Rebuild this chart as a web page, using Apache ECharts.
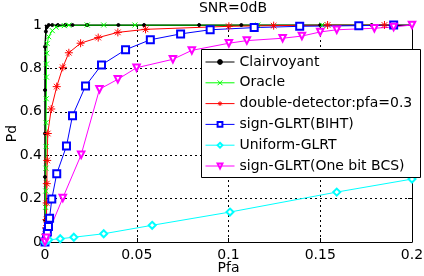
<!DOCTYPE html>
<html><head><meta charset="utf-8">
<script src="https://cdn.jsdelivr.net/npm/echarts@6/dist/echarts.min.js"></script>
<style>html,body{margin:0;padding:0;background:#fff}#c{width:424px;height:276px}</style>
</head><body><div id="c"></div>
<script>
var seriesNames = ['Clairvoyant','Oracle','double-detector:pfa=0.3','sign-GLRT(BIHT)','Uniform-GLRT','sign-GLRT(One bit BCS)'];
var xTicks = [0, 0.05, 0.1, 0.15, 0.2];
var yTicks = [0, 0.2, 0.4, 0.6, 0.8, 1];
var clairvoyant = [[0,0],[0,0.1],[0,0.3],[0,0.5],[0,0.7],[0,0.9],[0.0005,0.97],[0.001,0.99],[0.002,1],[0.004,1],[0.007,1],[0.011,1],[0.015,1],[0.023,1],[0.04,1],[0.054,1],[0.084,1],[0.107,1],[0.15,1],[0.178,1],[0.2,1]];
var oracle = [[0,0],[0.0002,0.05],[0.0003,0.16],[0.0004,0.235],[0.0005,0.34],[0.0006,0.44],[0.0006,0.55],[0.0007,0.66],[0.0008,0.76],[0.0008,0.82],[0.001,0.87],[0.0012,0.915],[0.002,0.946],[0.004,0.974],[0.006,0.99],[0.0105,0.997],[0.013,0.999],[0.023,1],[0.032,1],[0.049,1],[0.116,1],[0.151,1],[0.19,1]];
var doubleDetector = [[0,0],[0.0003,0.035],[0.0006,0.065],[0.0008,0.103],[0.0009,0.18],[0.001,0.269],[0.0012,0.376],[0.0015,0.5],[0.0034,0.613],[0.0064,0.716],[0.0097,0.805],[0.013,0.872],[0.0194,0.916],[0.029,0.942],[0.0397,0.966],[0.0548,0.98],[0.1002,0.994],[0.1246,0.997],[0.154,1],[0.185,1]];
var signBIHT = [[0,0],[0.0008,0.02],[0.0013,0.046],[0.0019,0.072],[0.0025,0.11],[0.0037,0.198],[0.0064,0.315],[0.0117,0.442],[0.015,0.582],[0.0221,0.719],[0.0308,0.816],[0.0439,0.886],[0.0574,0.932],[0.0739,0.959],[0.09,0.978],[0.114,0.988],[0.1388,0.994],[0.171,0.997],[0.19,1]];
var uniformGLRT = [[0,0],[0.0005,0.003],[0.002,0.01],[0.0083,0.015],[0.0157,0.022],[0.032,0.038],[0.0584,0.077],[0.1008,0.138],[0.159,0.23],[0.2,0.29]];
var signBCS = [[0,0],[0.0007,0.02],[0.0097,0.203],[0.0197,0.402],[0.0297,0.704],[0.0397,0.75],[0.0499,0.803],[0.0697,0.842],[0.08,0.883],[0.1002,0.916],[0.11,0.928],[0.1295,0.939],[0.14,0.949],[0.15,0.968],[0.159,0.978],[0.1795,0.985],[0.19,0.991],[0.2,1.0]];

var FONT = 'DejaVu Sans';
var xMark = 'path://M0,0L10,10M10,0L0,10';
var star = 'path://M5,0L5,10M0,5L10,5M1.5,1.5L8.5,8.5M8.5,1.5L1.5,8.5';

function mk(name, data, color, symbol, size, extra) {
  var s = {
    name: name, type: 'line', data: data, xAxisIndex: 0, yAxisIndex: 0,
    symbol: symbol, symbolSize: size, showSymbol: true,
    lineStyle: {color: color, width: 1},
    itemStyle: {color: color, borderColor: color, borderWidth: 1},
    emphasis: {disabled: true}, animation: false, clip: true, z: 3
  };
  if (extra) for (var k in extra) s[k] = extra[k];
  return s;
}

var chart = echarts.init(document.getElementById('c'), null, {renderer: 'canvas'});
var axisCommon = {
  type: 'value',
  axisLine: {show: true, onZero: false, lineStyle: {color: '#000', width: 1}},
  axisTick: {show: true, inside: true, length: 4, lineStyle: {color: '#000'}},
  axisLabel: {color: '#000', fontFamily: FONT, fontSize: 14},
  splitLine: {show: true, lineStyle: {color: '#000', width: 1, type: [2, 3]}}
};
chart.setOption({
  animation: false,
  backgroundColor: '#fff',
  title: {text: 'SNR=0dB', left: 228, top: 0, padding: [1, 5, 5, 5], textAlign: 'center',
    textStyle: {fontFamily: FONT, fontSize: 14, fontWeight: 'normal', color: '#000'}},
  grid: {left: 45, right: 12, top: 25, bottom: 34, containLabel: false, outerBoundsMode: 'none'},
  xAxis: [
    Object.assign({}, axisCommon, {min: xTicks[0], max: xTicks[xTicks.length-1], interval: 0.05, position: 'bottom',
      name: 'Pfa', nameLocation: 'middle', nameGap: 19, nameMoveOverlap: false,
      nameTextStyle: {fontFamily: FONT, fontSize: 14, color: '#000', verticalAlign: 'top'},
      axisLabel: {color: '#000', fontFamily: FONT, fontSize: 14, margin: 6}}),
    Object.assign({}, axisCommon, {min: xTicks[0], max: xTicks[xTicks.length-1], interval: 0.05, position: 'top',
      axisLabel: {show: false}, splitLine: {show: false}})
  ],
  yAxis: [
    Object.assign({}, axisCommon, {min: yTicks[0], max: yTicks[yTicks.length-1], interval: 0.2, position: 'left',
      name: 'Pd', nameLocation: 'middle', nameGap: 26, nameRotate: 90, nameMoveOverlap: false,
      nameTextStyle: {fontFamily: FONT, fontSize: 14, color: '#000'},
      axisLabel: {color: '#000', fontFamily: FONT, fontSize: 14, margin: 3}}),
    Object.assign({}, axisCommon, {min: yTicks[0], max: yTicks[yTicks.length-1], interval: 0.2, position: 'right',
      axisLabel: {show: false}, splitLine: {show: false}})
  ],
  graphic: [{type: 'rect', shape: {x: 201.5, y: 49.5, width: 219, height: 128}, z: 9,
    style: {fill: '#fff', stroke: '#000', lineWidth: 1}}],
  legend: {
    orient: 'vertical', left: 205, top: 55,
    data: seriesNames,
    padding: 0, itemGap: 6.8, itemWidth: 29, itemHeight: 6,
    itemStyle: {borderWidth: 1},
    lineStyle: {width: 1},
    textStyle: {fontFamily: FONT, fontSize: 14, lineHeight: 14, color: '#000'},
    selectedMode: false, z: 10
  },
  series: [
    mk(seriesNames[0], clairvoyant, '#000000', 'circle', 3, {lineStyle: {color: '#000', width: 1.5}}),
    mk(seriesNames[1], oracle, '#00ff00', xMark, 5),
    mk(seriesNames[2], doubleDetector, '#ff0000', star, 8),
    mk(seriesNames[3], signBIHT, '#0000ff', 'emptyRect', 7),
    mk(seriesNames[4], uniformGLRT, '#00ffff', 'emptyDiamond', 7),
    mk(seriesNames[5], signBCS, '#ff00ff', 'emptyTriangle', 6.5, {symbolRotate: 180})
  ]
});
</script></body></html>
